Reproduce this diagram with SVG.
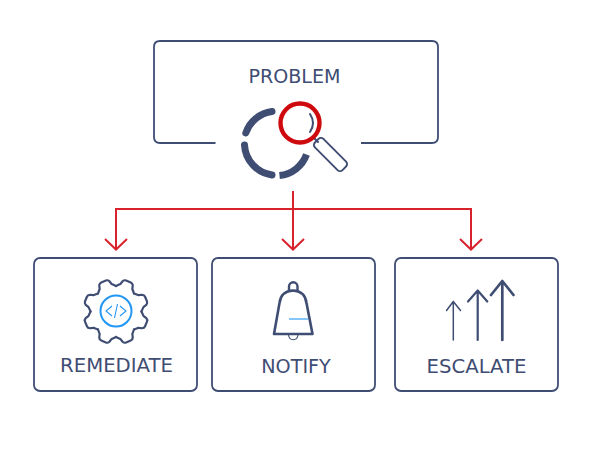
<svg xmlns="http://www.w3.org/2000/svg" width="600" height="460" viewBox="0 0 600 460">
<style>
.ln{fill:none;stroke:#3f4d73;stroke-linecap:round;stroke-linejoin:round}
.box{fill:none;stroke:#3f4d73;stroke-width:1.800}
.lbl{font-family:"DejaVu Sans",sans-serif;fill:#3f4d73;text-anchor:middle}
.red{fill:none;stroke:#d8232d;stroke-width:2}
.blue{fill:none;stroke:#2196f3}
</style>
<defs>
<path id="tooth" class="ln" stroke-width="2.200" d="M23.500 -9.700Q26 -7.500 27 -6.500L30.500 -5.500Q32.500 -4.500 32.500 -2.500L32.500 2.500Q32.500 4.500 30.500 5.500L27 6.500Q26 7.500 23.500 9.700"/>
</defs>
<rect width="600" height="460" fill="#fff"/>
<g id="connectors">
<path class="red" d="M293 191V249M116 249V209H471V249"/>
<path class="red" d="M105 239L116 249.500L127 239M282 239L293 249.500L304 239M460 239L471 249.500L482 239"/>
</g>
<g id="problem">
<path class="box" d="M215.500 143H160Q154 143 154 137V47Q154 41 160 41H432Q438 41 438 47V137Q438 143 432 143H361"/>
<text class="lbl" font-size="19.100" x="294.500" y="83">PROBLEM</text>
<g class="ln" stroke-width="7">
<path d="M272 111.500A32 32 0 0 0 245.800 133"/>
<path d="M244.500 145A32 32 0 0 0 272 175"/>
<path d="M279.500 175.500A32 32 0 0 0 306.500 154.500" stroke-linecap="butt"/>
</g>
<path class="ln" stroke-width="2" d="M310 114Q316 123 310 132"/>
<path class="ln" stroke-width="2" d="M313 137L318 142"/>
<rect class="ln" stroke-width="1.900" x="311" y="148.500" width="39" height="12" rx="3.500" transform="rotate(45 330.500 154.500)"/>
<circle cx="300" cy="123" r="19.500" fill="none" stroke="#cf0a0f" stroke-width="4.400"/>
</g>
<g id="remediate">
<rect class="box" x="34" y="258" width="163" height="133" rx="6"/>
<g transform="translate(116 311.500)">
<use href="#tooth" transform="rotate(22.500)"/>
<use href="#tooth" transform="rotate(67.500)"/>
<use href="#tooth" transform="rotate(112.500)"/>
<use href="#tooth" transform="rotate(157.500)"/>
<use href="#tooth" transform="rotate(202.500)"/>
<use href="#tooth" transform="rotate(247.500)"/>
<use href="#tooth" transform="rotate(292.500)"/>
<use href="#tooth" transform="rotate(337.500)"/>
</g>
<circle class="blue" cx="116" cy="311" r="15.500" stroke-width="2"/>
<path class="blue" stroke-width="1.100" d="M112 306L106 311L112 316M120 306L126 311L120 316M117.500 304L114.500 318"/>
<text class="lbl" font-size="19.700" x="116.500" y="372">REMEDIATE</text>
</g>
<g id="notify">
<rect class="box" x="212" y="258" width="163" height="133" rx="6"/>
<path class="ln" stroke-width="2.400" d="M289 291V286.500A4.200 4.200 0 0 1 297.500 286.500V291"/>
<path class="ln" stroke-width="2.600" d="M274 334L279.500 303Q281 291 293 290.500Q305 291 306.500 303L312.500 334Z"/>
<path class="ln" stroke-width="1.100" d="M288.500 335A4.800 5.500 0 0 0 298 335"/>
<path class="blue" stroke-width="1.100" d="M289 319H308"/>
<text class="lbl" font-size="19.200" x="296" y="373">NOTIFY</text>
</g>
<g id="escalate">
<rect class="box" x="395" y="258" width="163" height="133" rx="6"/>
<path class="ln" stroke-width="1.500" d="M453.300 340V301.500M446.500 310.500L453.300 301.500L460.500 310.500"/>
<path class="ln" stroke-width="2.200" d="M477.700 340V290.500M468 301.500L477.700 290.500L487.300 301.500"/>
<path class="ln" stroke-width="2.700" d="M502.300 340V281M491 295L502.300 281L513.500 295"/>
<text class="lbl" font-size="19.700" x="476.500" y="373">ESCALATE</text>
</g>
</svg>
